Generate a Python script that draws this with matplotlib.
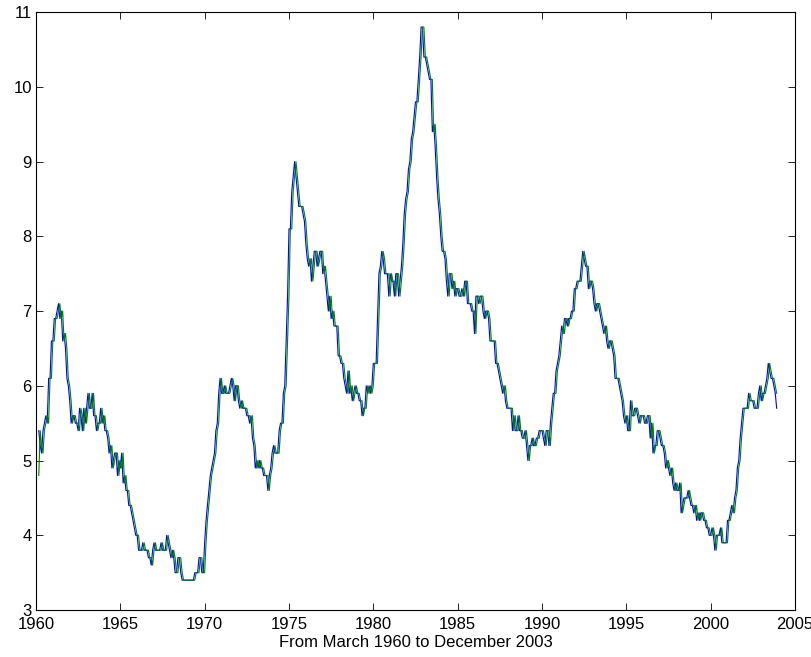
import numpy as np
import matplotlib
matplotlib.use("Agg")
import matplotlib.pyplot as plt

# monthly unemployment rate (%), Jan..Dec for each year 1960-2003
years = list(range(1960, 2004))
rate = [
    [5.2, 4.8, 5.4, 5.2, 5.1, 5.4, 5.5, 5.6, 5.5, 6.1, 6.1, 6.6],
    [6.6, 6.9, 6.9, 7.0, 7.1, 6.9, 7.0, 6.6, 6.7, 6.5, 6.1, 6.0],
    [5.8, 5.5, 5.6, 5.6, 5.5, 5.5, 5.4, 5.7, 5.6, 5.4, 5.7, 5.5],
    [5.7, 5.9, 5.7, 5.7, 5.9, 5.6, 5.6, 5.4, 5.5, 5.5, 5.7, 5.5],
    [5.6, 5.4, 5.4, 5.3, 5.1, 5.2, 4.9, 5.0, 5.1, 5.1, 4.8, 5.0],
    [4.9, 5.1, 4.7, 4.8, 4.6, 4.6, 4.4, 4.4, 4.3, 4.2, 4.1, 4.0],
    [4.0, 3.8, 3.8, 3.8, 3.9, 3.8, 3.8, 3.8, 3.7, 3.7, 3.6, 3.8],
    [3.9, 3.8, 3.8, 3.8, 3.8, 3.9, 3.8, 3.8, 3.8, 4.0, 3.9, 3.8],
    [3.7, 3.8, 3.7, 3.5, 3.5, 3.7, 3.7, 3.5, 3.4, 3.4, 3.4, 3.4],
    [3.4, 3.4, 3.4, 3.4, 3.4, 3.5, 3.5, 3.5, 3.7, 3.7, 3.5, 3.5],
    [3.9, 4.2, 4.4, 4.6, 4.8, 4.9, 5.0, 5.1, 5.4, 5.5, 5.9, 6.1],
    [5.9, 5.9, 6.0, 5.9, 5.9, 5.9, 6.0, 6.1, 6.0, 5.8, 6.0, 6.0],
    [5.8, 5.7, 5.8, 5.7, 5.7, 5.7, 5.6, 5.6, 5.5, 5.6, 5.3, 5.2],
    [4.9, 5.0, 4.9, 5.0, 4.9, 4.9, 4.8, 4.8, 4.8, 4.6, 4.8, 4.9],
    [5.1, 5.2, 5.1, 5.1, 5.1, 5.4, 5.5, 5.5, 5.9, 6.0, 6.6, 7.2],
    [8.1, 8.1, 8.6, 8.8, 9.0, 8.8, 8.6, 8.4, 8.4, 8.4, 8.3, 8.2],
    [7.9, 7.7, 7.6, 7.7, 7.4, 7.6, 7.8, 7.8, 7.6, 7.7, 7.8, 7.8],
    [7.5, 7.6, 7.4, 7.2, 7.0, 7.2, 6.9, 7.0, 6.8, 6.8, 6.8, 6.4],
    [6.4, 6.3, 6.3, 6.1, 6.0, 5.9, 6.2, 5.9, 6.0, 5.8, 5.9, 6.0],
    [5.9, 5.9, 5.8, 5.8, 5.6, 5.7, 5.7, 6.0, 5.9, 6.0, 5.9, 6.0],
    [6.3, 6.3, 6.3, 6.9, 7.5, 7.6, 7.8, 7.7, 7.5, 7.5, 7.5, 7.2],
    [7.5, 7.4, 7.4, 7.2, 7.5, 7.5, 7.2, 7.4, 7.6, 7.9, 8.3, 8.5],
    [8.6, 8.9, 9.0, 9.3, 9.4, 9.6, 9.8, 9.8, 10.1, 10.4, 10.8, 10.8],
    [10.4, 10.4, 10.3, 10.2, 10.1, 10.1, 9.4, 9.5, 9.2, 8.8, 8.5, 8.3],
    [8.0, 7.8, 7.8, 7.7, 7.4, 7.2, 7.5, 7.5, 7.3, 7.4, 7.2, 7.3],
    [7.3, 7.2, 7.2, 7.3, 7.2, 7.4, 7.4, 7.1, 7.1, 7.1, 7.0, 7.0],
    [6.7, 7.2, 7.2, 7.1, 7.2, 7.2, 7.0, 6.9, 7.0, 7.0, 6.9, 6.6],
    [6.6, 6.6, 6.6, 6.3, 6.3, 6.2, 6.1, 6.0, 5.9, 6.0, 5.8, 5.7],
    [5.7, 5.7, 5.7, 5.4, 5.6, 5.4, 5.4, 5.6, 5.4, 5.4, 5.3, 5.3],
    [5.4, 5.2, 5.0, 5.2, 5.2, 5.3, 5.2, 5.2, 5.3, 5.3, 5.4, 5.4],
    [5.4, 5.3, 5.2, 5.4, 5.4, 5.2, 5.5, 5.7, 5.9, 5.9, 6.2, 6.3],
    [6.4, 6.6, 6.8, 6.7, 6.9, 6.9, 6.8, 6.9, 6.9, 7.0, 7.0, 7.3],
    [7.3, 7.4, 7.4, 7.4, 7.6, 7.8, 7.7, 7.6, 7.6, 7.3, 7.4, 7.4],
    [7.3, 7.1, 7.0, 7.1, 7.1, 7.0, 6.9, 6.8, 6.7, 6.8, 6.6, 6.5],
    [6.6, 6.6, 6.5, 6.4, 6.1, 6.1, 6.1, 6.0, 5.9, 5.8, 5.6, 5.5],
    [5.6, 5.4, 5.4, 5.8, 5.6, 5.6, 5.7, 5.7, 5.6, 5.5, 5.6, 5.6],
    [5.6, 5.5, 5.5, 5.6, 5.6, 5.3, 5.5, 5.1, 5.2, 5.2, 5.4, 5.4],
    [5.3, 5.2, 5.2, 5.1, 4.9, 5.0, 4.9, 4.8, 4.9, 4.7, 4.6, 4.7],
    [4.6, 4.6, 4.7, 4.3, 4.4, 4.5, 4.5, 4.5, 4.6, 4.5, 4.4, 4.4],
    [4.3, 4.4, 4.2, 4.3, 4.2, 4.3, 4.3, 4.2, 4.2, 4.1, 4.1, 4.0],
    [4.0, 4.1, 4.0, 3.8, 4.0, 4.0, 4.0, 4.1, 3.9, 3.9, 3.9, 3.9],
    [4.2, 4.2, 4.3, 4.4, 4.3, 4.5, 4.6, 4.9, 5.0, 5.3, 5.5, 5.7],
    [5.7, 5.7, 5.7, 5.9, 5.8, 5.8, 5.8, 5.7, 5.7, 5.7, 5.9, 6.0],
    [5.8, 5.9, 5.9, 6.0, 6.1, 6.3, 6.2, 6.1, 6.1, 6.0, 5.9, 5.7],
]

series = np.array(rate).ravel()
t = np.array([y + m / 12.0 for y in years for m in range(12)])

# actual from March 1960, previous month's value alongside it
actual = series[2:]
lagged = series[1:-1]
tt = t[2:]

plt.rcParams['font.family'] = ['Liberation Sans', 'DejaVu Sans']

fig = plt.figure(figsize=(8.12, 6.57), dpi=100)
ax = fig.add_axes([0.0443, 0.0715, 0.9347, 0.910])

ax.plot(tt, actual, color='#0000ff', lw=0.8)
ax.plot(tt, lagged, color='#008000', lw=0.8)

ax.set_xlim(1960, 2005)
ax.set_ylim(3, 11)
ax.set_xticks(range(1960, 2006, 5))
ax.set_yticks(range(3, 12))
ax.tick_params(direction='in', top=True, right=True, labelsize=12,
               length=5, width=0.6, pad=3)
ax.tick_params(axis='x', pad=5)
for s in ax.spines.values():
    s.set_linewidth(0.8)
ax.set_xlabel('From March 1960 to December 2003', fontsize=12, labelpad=2)

fig.savefig('out.png', dpi=100)
